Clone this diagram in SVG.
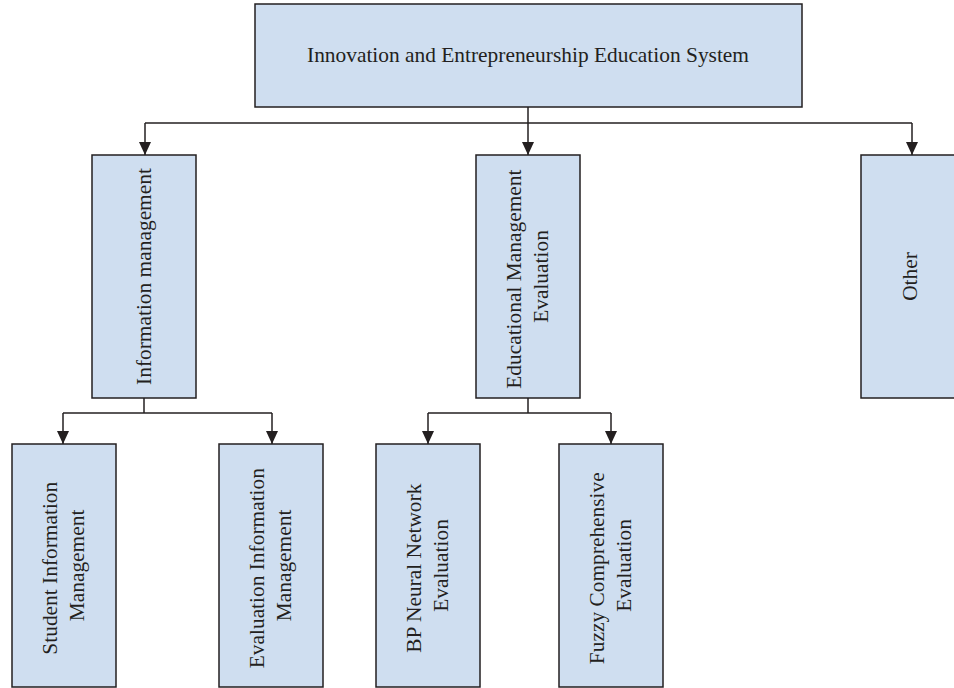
<svg xmlns="http://www.w3.org/2000/svg" width="954" height="688" viewBox="0 0 954 688">
  <style>
    .box { fill: #cfdef0; stroke: #231f20; stroke-width: 1.5; }
    .lbl { font-family: "Liberation Serif", "Times New Roman", serif; font-size: 21.4px; fill: #231f20; text-anchor: middle; }
    .wire { fill: none; stroke: #231f20; stroke-width: 1.5; }
  </style>
  <defs>
    <marker id="down" markerUnits="userSpaceOnUse" markerWidth="13" markerHeight="12" viewBox="0 0 13 12" refX="13" refY="6" orient="auto">
      <path d="M0,0 L13,6 L0,12 Z" fill="#231f20"/>
    </marker>
  </defs>
  <rect width="954" height="688" fill="#ffffff"/>

  <!-- connectors -->
  <g id="connectors" class="wire">
    <path d="M528,107 V123"/>
    <path d="M145,123 H912"/>
    <path d="M145,123 V155" marker-end="url(#down)"/>
    <path d="M528,123 V155" marker-end="url(#down)"/>
    <path d="M912,123 V155" marker-end="url(#down)"/>

    <path d="M144,398 V413"/>
    <path d="M63,413 H272"/>
    <path d="M63,413 V444" marker-end="url(#down)"/>
    <path d="M272,413 V444" marker-end="url(#down)"/>

    <path d="M528,398 V413"/>
    <path d="M428,413 H611"/>
    <path d="M428,413 V444" marker-end="url(#down)"/>
    <path d="M611,413 V444" marker-end="url(#down)"/>
  </g>

  <!-- root -->
  <g id="root">
    <rect class="box" x="255" y="4" width="547" height="103"/>
    <text class="lbl" x="528" y="62">Innovation and Entrepreneurship Education System</text>
  </g>

  <!-- second level -->
  <g id="info-management">
    <rect class="box" x="92" y="155" width="104" height="243"/>
    <text class="lbl" transform="translate(144,276.5) rotate(-90)" y="7">Information management</text>
  </g>
  <g id="edu-evaluation">
    <rect class="box" x="476" y="155" width="104" height="243"/>
    <text class="lbl" transform="translate(528,276.5) rotate(-90)">
      <tspan x="0" y="-7">Educational Management</tspan>
      <tspan x="0" y="20">Evaluation</tspan>
    </text>
  </g>
  <g id="other">
    <rect class="box" x="861" y="155" width="104" height="243"/>
    <text class="lbl" transform="translate(910,276.5) rotate(-90)" y="7">Other</text>
  </g>

  <!-- third level -->
  <g id="student-info">
    <rect class="box" x="12" y="444" width="104" height="243"/>
    <text class="lbl" transform="translate(64,565.5) rotate(-90)">
      <tspan x="0" y="-7">Student Information</tspan>
      <tspan x="0" y="20">Management</tspan>
    </text>
  </g>
  <g id="evaluation-info">
    <rect class="box" x="219" y="444" width="104" height="243"/>
    <text class="lbl" transform="translate(271,565.5) rotate(-90)">
      <tspan x="0" y="-7">Evaluation Information</tspan>
      <tspan x="0" y="20">Management</tspan>
    </text>
  </g>
  <g id="bp-neural">
    <rect class="box" x="376" y="444" width="104" height="243"/>
    <text class="lbl" transform="translate(428,565.5) rotate(-90)">
      <tspan x="0" y="-7">BP Neural Network</tspan>
      <tspan x="0" y="20">Evaluation</tspan>
    </text>
  </g>
  <g id="fuzzy">
    <rect class="box" x="559" y="444" width="104" height="243"/>
    <text class="lbl" transform="translate(611,565.5) rotate(-90)">
      <tspan x="0" y="-7">Fuzzy Comprehensive</tspan>
      <tspan x="0" y="20">Evaluation</tspan>
    </text>
  </g>
</svg>
